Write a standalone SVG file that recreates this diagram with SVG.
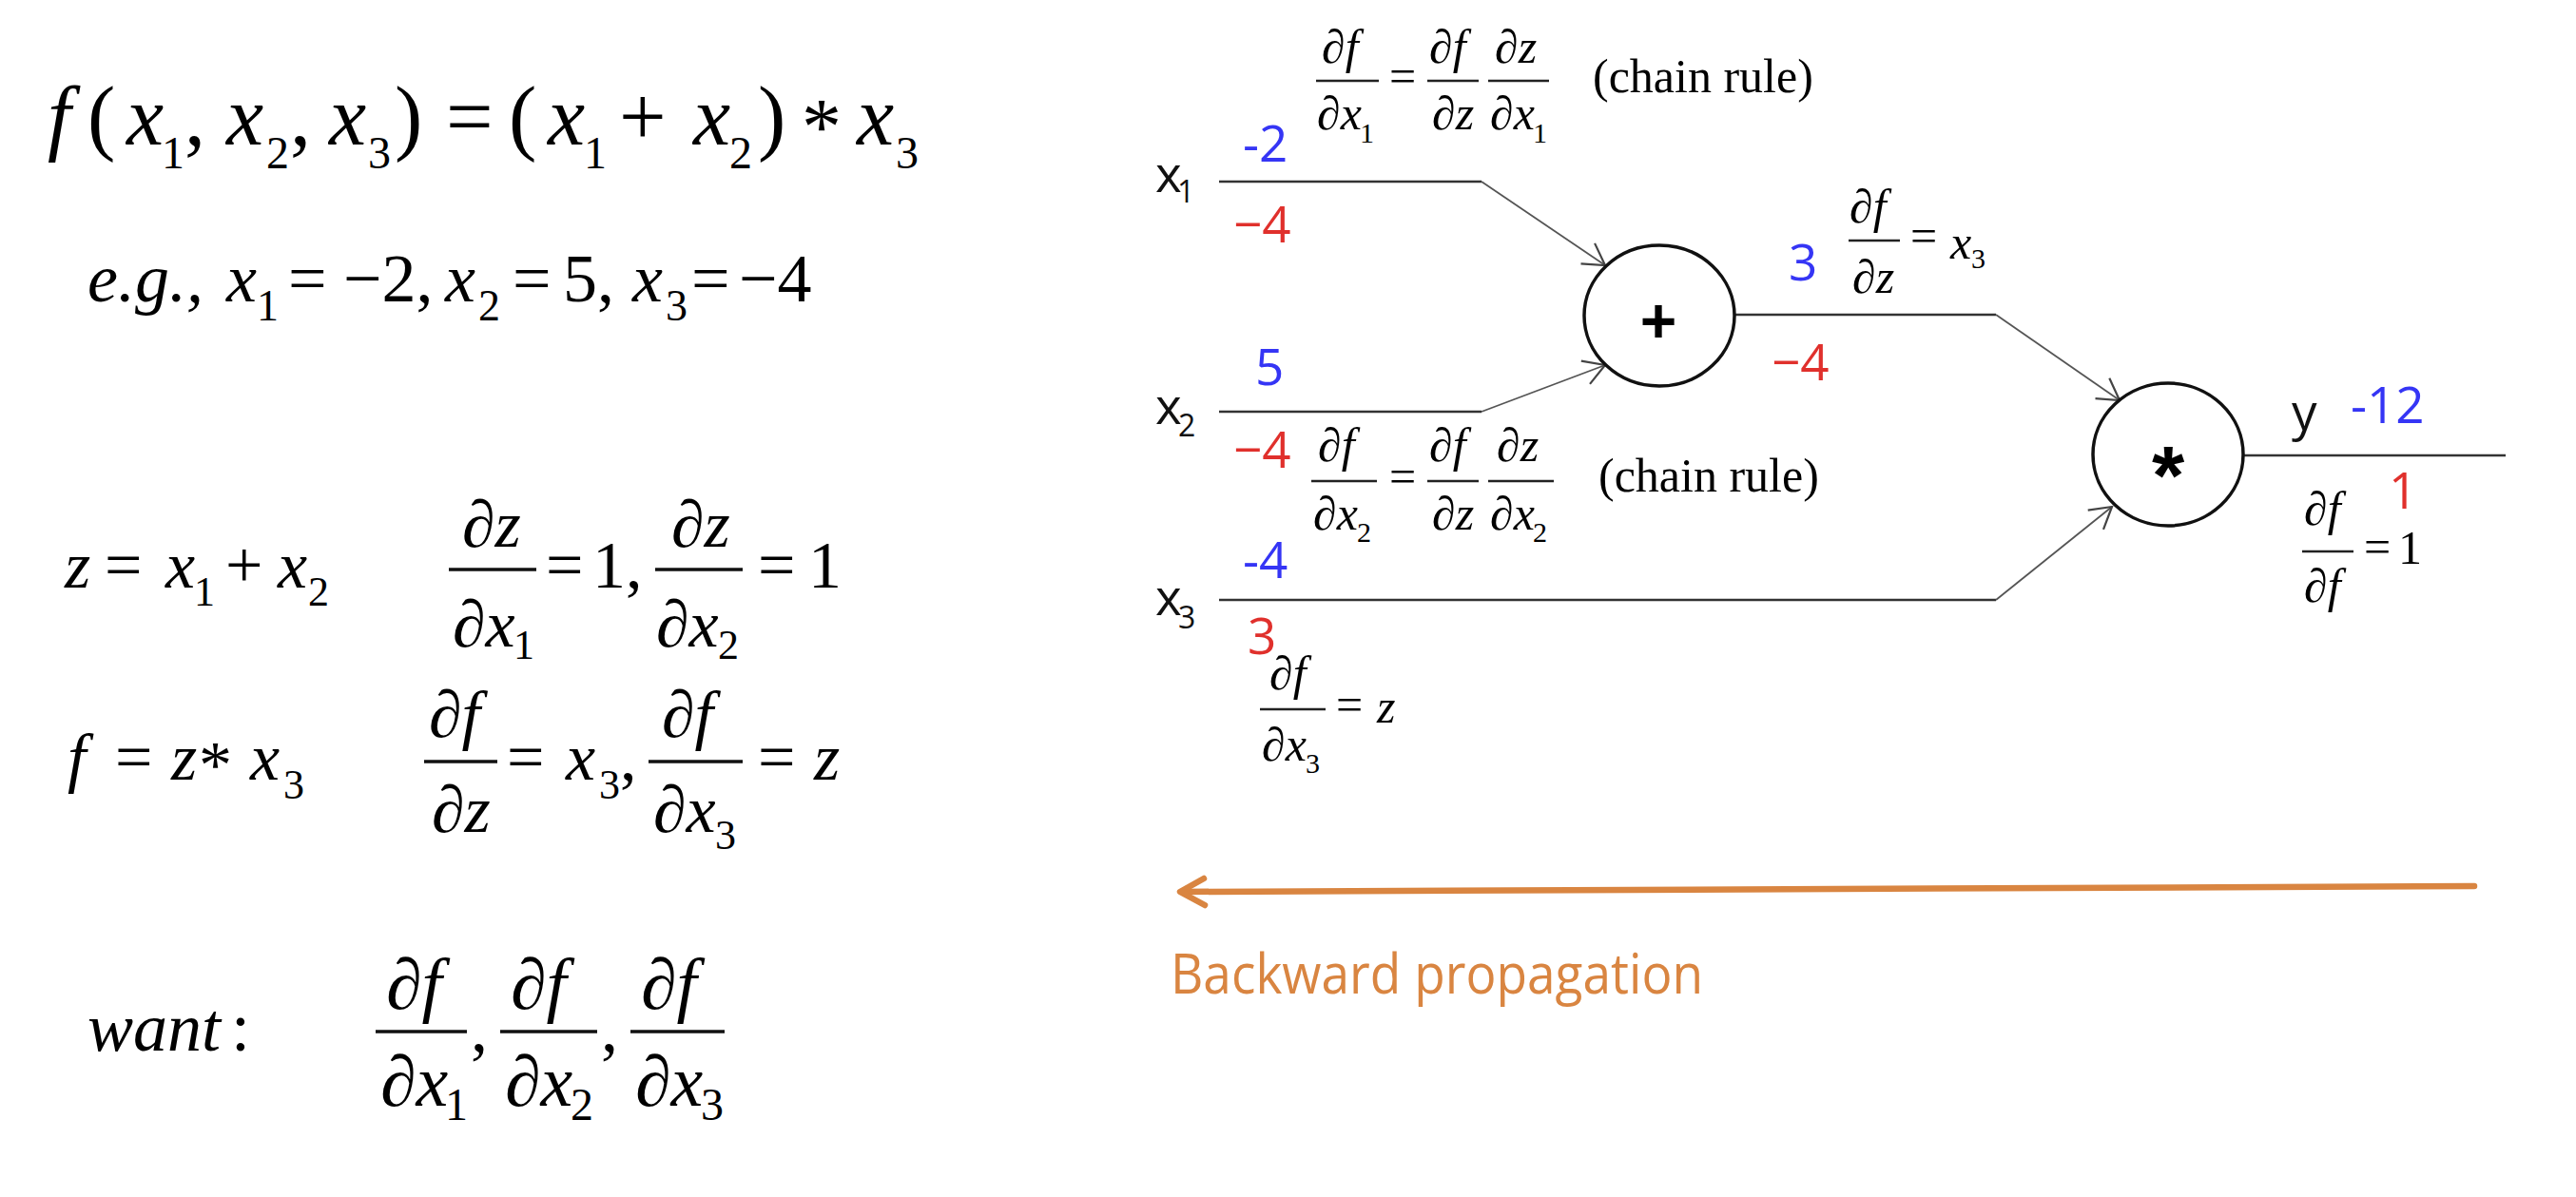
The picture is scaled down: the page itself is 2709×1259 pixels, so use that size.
<svg xmlns="http://www.w3.org/2000/svg" width="2709" height="1259" viewBox="0 0 2709 1259">
<defs>
<style>
.mi{font-family:"Liberation Serif","Times New Roman",serif;font-style:italic;fill:#000}
.mr{font-family:"Liberation Serif","Times New Roman",serif;fill:#000}
.a{font-size:88px}.as{font-size:48px}
.b{font-size:72px}.bs{font-size:46px}
.c{font-size:70px}.cs{font-size:44px}
.d{font-size:76px}
.r{font-size:50px}.rs{font-size:30px}
.lab{font-family:"Open Sans","Liberation Sans",sans-serif;font-size:53px;fill:#111}
.labs{font-family:"Open Sans","Liberation Sans",sans-serif;font-size:32px;fill:#111}
.val{font-family:"Open Sans","Liberation Sans",sans-serif;font-size:53px}
.blue{fill:#3535f5}
.red{fill:#e0302c}
.op{font-family:"Liberation Sans",Arial,sans-serif;font-weight:bold;fill:#000;text-anchor:middle}
.node{fill:#fff;stroke:#111;stroke-width:3.5}
.hl{fill:none;stroke:#333;stroke-width:2.6}
.dl{fill:none;stroke:#555;stroke-width:1.8}
.bar{stroke:#111;stroke-width:3.5}
.rbar{stroke:#222;stroke-width:2.5}
.orange{fill:#d98541}
</style>
<marker id="ah" viewBox="0 0 26 30" markerWidth="26" markerHeight="30" refX="24" refY="15" orient="auto" markerUnits="userSpaceOnUse">
<path d="M2,2 L24,15 L2,28" fill="none" stroke="#444" stroke-width="2.2"/>
</marker>
</defs>
<rect width="2709" height="1259" fill="#fff"/>

<g id="left-math">
<g id="eq1">
<text class="mi a" x="50" y="152">f</text>
<text class="mr a" x="92" y="152">(</text>
<text class="mi a" x="133" y="152">x</text>
<text class="mr as" x="170" y="177">1</text>
<text class="mr a" x="194" y="152">,</text>
<text class="mi a" x="238" y="152">x</text>
<text class="mr as" x="280" y="177">2</text>
<text class="mr a" x="305" y="152">,</text>
<text class="mi a" x="346" y="152">x</text>
<text class="mr as" x="387" y="177">3</text>
<text class="mr a" x="415" y="152">)</text>
<text class="mr a" x="469" y="152">=</text>
<text class="mr a" x="535" y="152">(</text>
<text class="mi a" x="576" y="152">x</text>
<text class="mr as" x="614" y="177">1</text>
<text class="mr a" x="651" y="152">+</text>
<text class="mi a" x="729" y="152">x</text>
<text class="mr as" x="767" y="177">2</text>
<text class="mr a" x="797" y="152">)</text>
<text class="mr" style="font-size:84px" x="843" y="162">*</text>
<text class="mi a" x="901" y="152">x</text>
<text class="mr as" x="942" y="177">3</text>
</g>
<g id="eq2">
<text class="mi b" x="92" y="317">e.g.,</text>
<text class="mi b" x="238" y="317">x</text>
<text class="mr bs" x="270" y="337">1</text>
<text class="mr b" x="303" y="317">=</text>
<text class="mr b" x="361" y="317">−2,</text>
<text class="mi b" x="468" y="317">x</text>
<text class="mr bs" x="503" y="337">2</text>
<text class="mr b" x="539" y="317">=</text>
<text class="mr b" x="592" y="317">5,</text>
<text class="mi b" x="665" y="317">x</text>
<text class="mr bs" x="700" y="337">3</text>
<text class="mr b" x="727" y="317">=</text>
<text class="mr b" x="777" y="317">−4</text>
</g>
<g id="eq3">
<text class="mi c" x="68" y="618">z</text>
<text class="mr c" x="110" y="618">=</text>
<text class="mi c" x="174" y="618">x</text>
<text class="mr cs" x="204" y="637">1</text>
<text class="mr c" x="237" y="618">+</text>
<text class="mi c" x="292" y="618">x</text>
<text class="mr cs" x="324" y="637">2</text>
<text class="mi c" x="486" y="575">∂z</text>
<line class="bar" x1="472" y1="599" x2="564" y2="599"/>
<text class="mi c" x="476" y="680">∂x</text>
<text class="mr cs" x="540" y="693">1</text>
<text class="mr c" x="574" y="618">=</text>
<text class="mr c" x="623" y="618">1,</text>
<text class="mi c" x="706" y="575">∂z</text>
<line class="bar" x1="689" y1="599" x2="781" y2="599"/>
<text class="mi c" x="690" y="680">∂x</text>
<text class="mr cs" x="755" y="693">2</text>
<text class="mr c" x="797" y="618">=</text>
<text class="mr c" x="850" y="618">1</text>
</g>
<g id="eq4">
<text class="mi c" x="71" y="820">f</text>
<text class="mr c" x="121" y="820">=</text>
<text class="mi c" x="180" y="820">z</text>
<text class="mr c" x="209" y="828">*</text>
<text class="mi c" x="263" y="820">x</text>
<text class="mr cs" x="298" y="840">3</text>
<text class="mi c" x="451" y="775">∂f</text>
<line class="bar" x1="446" y1="801" x2="523" y2="801"/>
<text class="mi c" x="454" y="875">∂z</text>
<text class="mr c" x="533" y="820">=</text>
<text class="mi c" x="595" y="820">x</text>
<text class="mr cs" x="630" y="840">3</text>
<text class="mr c" x="652" y="820">,</text>
<text class="mi c" x="696" y="775">∂f</text>
<line class="bar" x1="682" y1="801" x2="781" y2="801"/>
<text class="mi c" x="687" y="875">∂x</text>
<text class="mr cs" x="752" y="893">3</text>
<text class="mr c" x="797" y="820">=</text>
<text class="mi c" x="856" y="820">z</text>
</g>
<g id="eq5">
<text class="mi b" x="92" y="1105">want</text>
<text class="mr b" x="243" y="1105">:</text>
<text class="mi d" x="406" y="1061">∂f</text>
<line class="bar" x1="395" y1="1085" x2="491" y2="1085"/>
<text class="mi d" x="400" y="1163">∂x</text>
<text class="mr as" x="468" y="1178">1</text>
<text class="mr b" x="495" y="1105">,</text>
<text class="mi d" x="537" y="1061">∂f</text>
<line class="bar" x1="526" y1="1085" x2="628" y2="1085"/>
<text class="mi d" x="531" y="1163">∂x</text>
<text class="mr as" x="600" y="1178">2</text>
<text class="mr b" x="632" y="1105">,</text>
<text class="mi d" x="674" y="1061">∂f</text>
<line class="bar" x1="663" y1="1085" x2="762" y2="1085"/>
<text class="mi d" x="668" y="1163">∂x</text>
<text class="mr as" x="737" y="1178">3</text>
</g>
</g>

<g id="connectors">
<path class="hl" d="M1282,191 H1558"/>
<path class="dl" d="M1558,191 L1688,279" marker-end="url(#ah)"/>
<path class="hl" d="M1282,433 H1558"/>
<path class="dl" d="M1558,433 L1688,384" marker-end="url(#ah)"/>
<path class="hl" d="M1824,331 H2099"/>
<path class="dl" d="M2099,331 L2229,421" marker-end="url(#ah)"/>
<path class="hl" d="M1282,631 H2099"/>
<path class="dl" d="M2099,631 L2221,533" marker-end="url(#ah)"/>
<path class="hl" d="M2359,479 H2635"/>
</g>

<g id="node-x1">
<text class="lab" x="1215" y="202">x</text>
<text class="labs" x="1238" y="213">1</text>
</g>
<g id="node-x2">
<text class="lab" x="1215" y="446">x</text>
<text class="labs" x="1239" y="459">2</text>
</g>
<g id="node-x3">
<text class="lab" x="1215" y="647">x</text>
<text class="labs" x="1239" y="661">3</text>
</g>
<g id="node-plus">
<ellipse class="node" cx="1745" cy="332" rx="79" ry="74"/>
<text class="op" style="font-size:66px" x="1744" y="360">+</text>
</g>
<g id="node-mul">
<ellipse class="node" cx="2280" cy="478" rx="79" ry="75"/>
<text class="op" style="font-size:88px" x="2280" y="530">*</text>
</g>
<g id="node-y">
<text class="lab" x="2410" y="452">y</text>
</g>

<g id="values">
<text class="val blue" x="1307" y="170">-2</text>
<text class="val red" x="1297" y="255">−4</text>
<text class="val blue" x="1320" y="405">5</text>
<text class="val red" x="1297" y="492">−4</text>
<text class="val blue" x="1307" y="608">-4</text>
<text class="val red" x="1312" y="688">3</text>
<text class="val blue" x="1881" y="295">3</text>
<text class="val red" x="1863" y="400">−4</text>
<text class="val blue" x="2472" y="445">-12</text>
<text class="val red" x="2512" y="535">1</text>
</g>

<g id="local-gradients">
<g id="chain1">
<text class="mi r" x="1390" y="66">∂f</text>
<line class="rbar" x1="1384" y1="85" x2="1450" y2="85"/>
<text class="mi r" x="1385" y="136">∂x</text>
<text class="mr rs" x="1430" y="150">1</text>
<text class="mr r" x="1461" y="97">=</text>
<text class="mi r" x="1503" y="66">∂f</text>
<line class="rbar" x1="1501" y1="85" x2="1555" y2="85"/>
<text class="mi r" x="1506" y="136">∂z</text>
<text class="mi r" x="1572" y="66">∂z</text>
<line class="rbar" x1="1565" y1="85" x2="1629" y2="85"/>
<text class="mi r" x="1567" y="136">∂x</text>
<text class="mr rs" x="1612" y="150">1</text>
<text class="mr r" x="1675" y="97">(chain rule)</text>
</g>
<g id="chain2">
<text class="mi r" x="1386" y="485">∂f</text>
<line class="rbar" x1="1379" y1="506" x2="1448" y2="506"/>
<text class="mi r" x="1381" y="557">∂x</text>
<text class="mr rs" x="1427" y="570">2</text>
<text class="mr r" x="1461" y="518">=</text>
<text class="mi r" x="1503" y="485">∂f</text>
<line class="rbar" x1="1501" y1="506" x2="1555" y2="506"/>
<text class="mi r" x="1506" y="557">∂z</text>
<text class="mi r" x="1574" y="485">∂z</text>
<line class="rbar" x1="1565" y1="506" x2="1634" y2="506"/>
<text class="mi r" x="1567" y="557">∂x</text>
<text class="mr rs" x="1612" y="570">2</text>
<text class="mr r" x="1681" y="517">(chain rule)</text>
</g>
<g id="grad-x3">
<text class="mi r" x="1335" y="725">∂f</text>
<line class="rbar" x1="1325" y1="746" x2="1394" y2="746"/>
<text class="mi r" x="1327" y="800">∂x</text>
<text class="mr rs" x="1373" y="813">3</text>
<text class="mr r" x="1405" y="758">=</text>
<text class="mi r" x="1448" y="760">z</text>
</g>
<g id="grad-z">
<text class="mi r" x="1945" y="234">∂f</text>
<line class="rbar" x1="1944" y1="253" x2="1998" y2="253"/>
<text class="mi r" x="1948" y="308">∂z</text>
<text class="mr r" x="2009" y="265">=</text>
<text class="mi r" x="2051" y="272">x</text>
<text class="mr rs" x="2073" y="282">3</text>
</g>
<g id="grad-y">
<text class="mi r" x="2423" y="552">∂f</text>
<line class="rbar" x1="2421" y1="580" x2="2475" y2="580"/>
<text class="mi r" x="2423" y="633">∂f</text>
<text class="mr r" x="2486" y="592">=</text>
<text class="mr r" x="2522" y="593">1</text>
</g>
</g>

<g id="backward">
<path d="M2602,932 L1243,938" fill="none" stroke="#d98541" stroke-width="6.5" stroke-linecap="round"/>
<path d="M1266,924 L1241,938 L1267,952" fill="none" stroke="#d98541" stroke-width="6.5" stroke-linecap="round" stroke-linejoin="round"/>
<text class="orange" style="font-family:'Open Sans','Liberation Sans',sans-serif;font-size:58px" x="1231" y="1045" textLength="560" lengthAdjust="spacingAndGlyphs">Backward propagation</text>
</g>
</svg>
